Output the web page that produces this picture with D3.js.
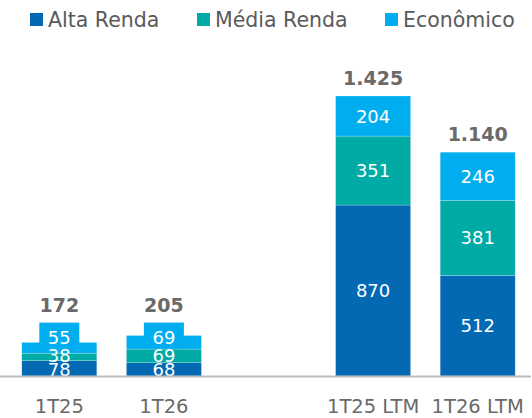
<!DOCTYPE html>
<html>
<head>
<meta charset="utf-8">
<script src="https://cdn.jsdelivr.net/npm/d3@7"></script>
<style>
  body { margin: 0; background: #fff; }
  #chart { width: 532px; height: 418px; }
  text { font-family: "DejaVu Sans", sans-serif; }
</style>
</head>
<body>
<div id="chart"></div>
<script>

// values
var categories = ["1T25", "1T26", "1T25 LTM", "1T26 LTM"];
var altaRenda  = [78, 68, 870, 512];
var mediaRenda = [38, 69, 351, 381];
var economico  = [55, 69, 204, 246];
var totals     = [172, 205, 1425, 1140];

var seriesNames  = ["Alta Renda", "Média Renda", "Econômico"];
var seriesColors = ["#0369b3", "#00aaa5", "#00aeef"];

var width = 532, height = 418;

var svg = d3.select("#chart")
    .append("svg")
    .attr("width", width)
    .attr("height", height);

var rows = categories.map(function(c, i) {
    return { cat: c, alta: altaRenda[i], media: mediaRenda[i], eco: economico[i], total: totals[i] };
});

var stack = d3.stack().keys(["alta", "media", "eco"]);
var stacked = stack(rows);

// empty slot between the quarter bars and the LTM bars
var slots = ["1T25", "1T26", "_gap", "1T25 LTM", "1T26 LTM"];

var x = d3.scaleBand()
    .domain(slots)
    .range([7, 530])
    .paddingInner(0.283)
    .paddingOuter(0.1415);

var baseY = 376;
var y = d3.scaleLinear()
    .domain([0, d3.max(totals)])
    .range([baseY, 96]);

var fmt = d3.formatLocale({ decimal: ",", thousands: ".", grouping: [3], currency: ["R$", ""] }).format(",d");

// bars
var layers = svg.selectAll("g.layer")
    .data(stacked)
    .enter()
    .append("g")
    .attr("class", "layer")
    .attr("fill", function(d, i) { return seriesColors[i]; });

layers.selectAll("rect")
    .data(function(d) { return d; })
    .enter()
    .append("rect")
    .attr("x", function(d) { return x(d.data.cat); })
    .attr("width", x.bandwidth())
    .attr("y", function(d) { return y(d[1]); })
    .attr("height", function(d) { return y(d[0]) - y(d[1]); })
    .attr("stroke", "rgba(255,255,255,0.35)")
    .attr("stroke-width", 0.6);

// segment labels, pushed apart when the bar is too short
var labelInfo = rows.map(function(r, i) {
    var ys = stacked.map(function(s) { return (y(s[i][0]) + y(s[i][1])) / 2; });
    var moved = [false, false, false];
    var g = 14;
    if (ys[0] - ys[1] < g) {
        var dlt = (g - (ys[0] - ys[1])) / 2;
        ys[0] += dlt; ys[1] -= dlt;
    }
    if (ys[1] - ys[2] < 18) {
        ys[2] = ys[1] - 18;
        moved[2] = true;
    }
    return { ys: ys, moved: moved };
});

var tops = rows.map(function(r, i) {
    var t = y(r.alta + r.media + r.eco);
    var info = labelInfo[i];
    if (info.moved[2]) t = Math.min(t, info.ys[2] - 15);
    return t;
});

stacked.forEach(function(s, k) {
    var g = svg.append("g").attr("class", "seglabels");

    g.selectAll("rect")
        .data(s.filter(function(d, i) { return labelInfo[i].moved[k]; }))
        .enter()
        .append("rect")
        .attr("x", function(d) { return x(d.data.cat) + x.bandwidth() / 2 - 20; })
        .attr("width", 40)
        .attr("y", function(d) { return labelInfo[rows.indexOf(d.data)].ys[k] - 15; })
        .attr("height", 26)
        .attr("fill", seriesColors[k]);

    g.selectAll("text")
        .data(s)
        .enter()
        .append("text")
        .attr("x", function(d) { return x(d.data.cat) + x.bandwidth() / 2; })
        .attr("y", function(d, i) { return labelInfo[i].ys[k]; })
        .attr("dy", "0.36em")
        .attr("text-anchor", "middle")
        .attr("fill", "#fff")
        .attr("font-size", "18px")
        .text(function(d) { return d[1] - d[0]; });
});

// baseline
svg.append("line")
    .attr("x1", 0)
    .attr("x2", 531)
    .attr("y1", baseY + 0.5)
    .attr("y2", baseY + 0.5)
    .attr("stroke", "#bdbdbd")
    .attr("stroke-width", 2);

// totals
svg.selectAll("text.total")
    .data(rows)
    .enter()
    .append("text")
    .attr("class", "total")
    .attr("x", function(d) { return x(d.cat) + x.bandwidth() / 2; })
    .attr("y", function(d, i) { return tops[i] - 11; })
    .attr("text-anchor", "middle")
    .attr("font-size", "19px")
    .attr("font-weight", "bold")
    .attr("fill", "#6a6a6a")
    .text(function(d) { return fmt(d.total); });

// category axis
var axis = svg.append("g")
    .attr("transform", "translate(0," + baseY + ")")
    .call(d3.axisBottom(x).tickSize(0).tickPadding(23)
        .tickFormat(function(d) { return d === "_gap" ? "" : d; }));

axis.select(".domain").remove();
axis.selectAll("text")
    .attr("font-family", "DejaVu Sans, sans-serif")
    .attr("font-size", "19.5px")
    .attr("fill", "#6a6a6a");

// legend
var legendX = [30, 197, 385];
var legend = svg.selectAll("g.legend")
    .data(seriesNames)
    .enter()
    .append("g")
    .attr("class", "legend")
    .attr("transform", function(d, i) { return "translate(" + legendX[i] + ",13)"; });

legend.append("rect")
    .attr("width", 13)
    .attr("height", 13)
    .attr("fill", function(d, i) { return seriesColors[i]; });

legend.append("text")
    .attr("x", 18)
    .attr("y", 14)
    .attr("font-size", "20.5px")
    .attr("fill", "#5a5a5a")
    .text(function(d) { return d; });

</script>
</body>
</html>
